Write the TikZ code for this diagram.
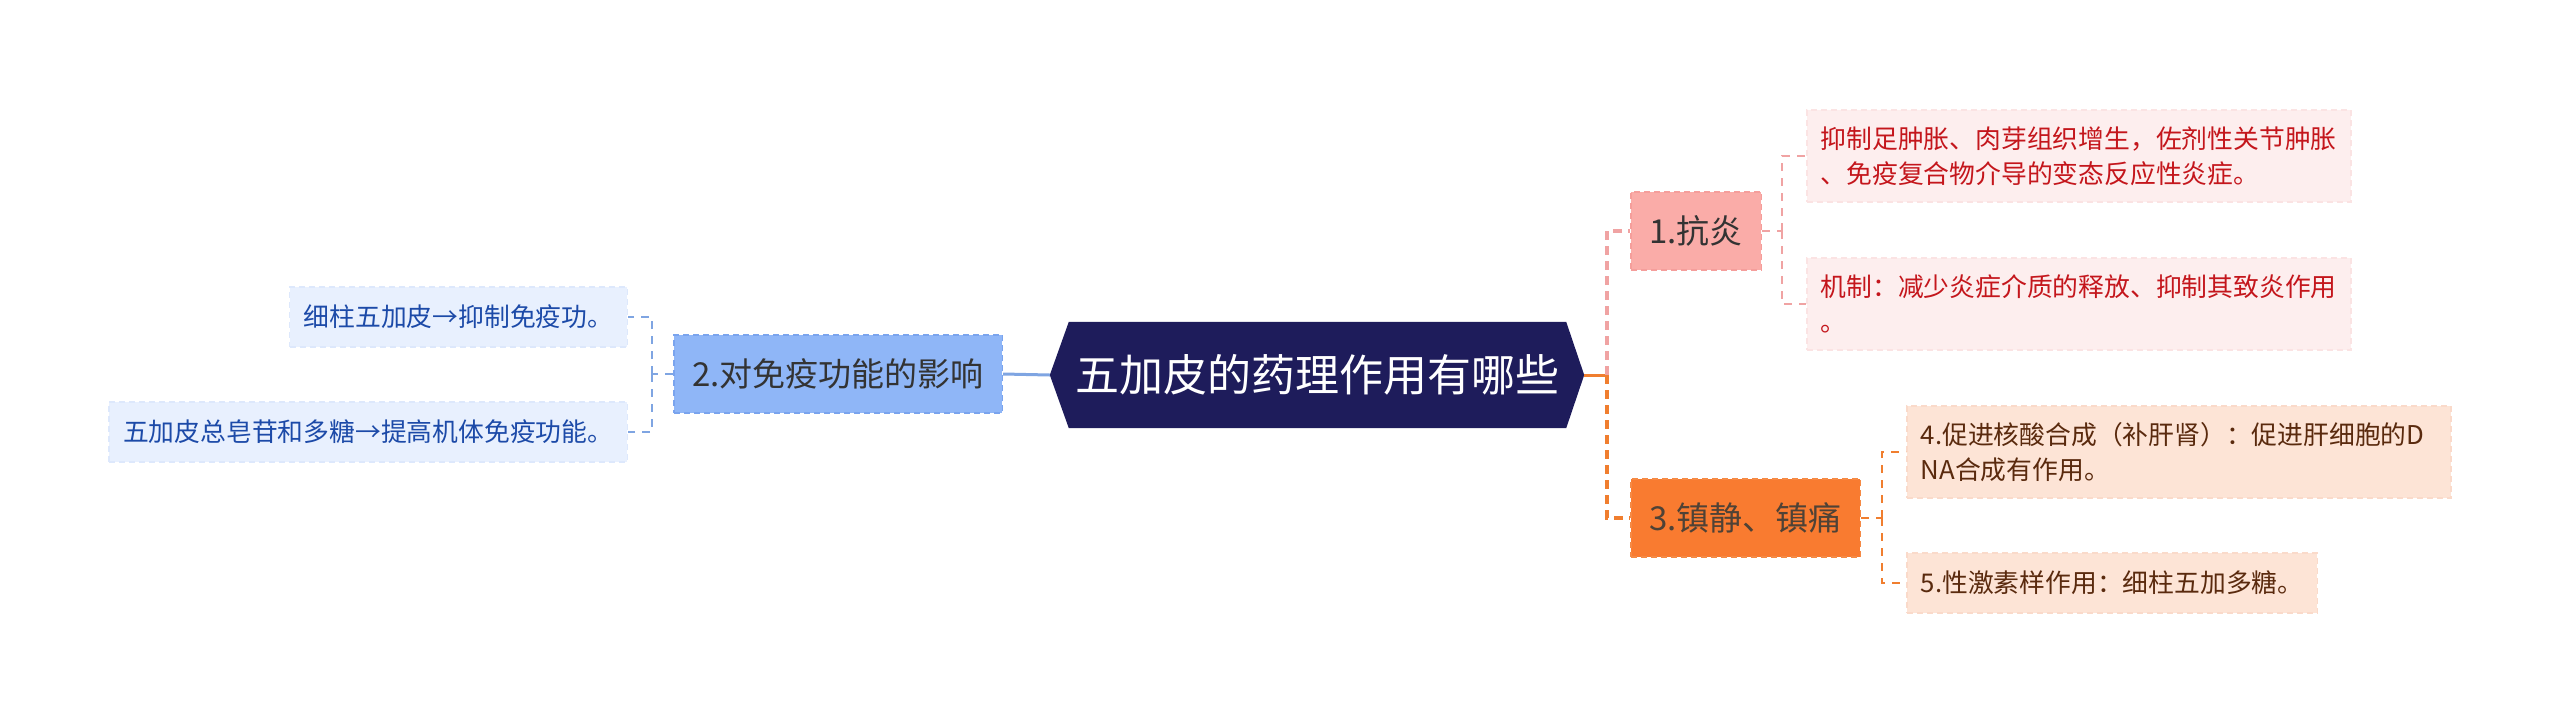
\documentclass[tikz,border=0pt]{standalone}
\usepackage{fontspec}
\newfontfamily\cjk{Noto Sans CJK SC}
\usetikzlibrary{backgrounds}
\definecolor{rootfill}{HTML}{1E1C5B}
\definecolor{bluemain}{HTML}{8FB6F7}
\definecolor{bluemainb}{HTML}{7AA4EE}
\definecolor{blueleaf}{HTML}{E8F0FE}
\definecolor{blueleafb}{HTML}{DDE8FC}
\definecolor{bluetext}{HTML}{1C4AA8}
\definecolor{blueline}{HTML}{7FA5E2}
\definecolor{pinkmain}{HTML}{FAACA8}
\definecolor{pinkmainb}{HTML}{F59E9B}
\definecolor{pinkleaf}{HTML}{FDEEEE}
\definecolor{pinkleafb}{HTML}{FBE3E3}
\definecolor{redtext}{HTML}{C4161C}
\definecolor{pinkline}{HTML}{F0A3A3}
\definecolor{orangemain}{HTML}{F97B30}
\definecolor{orangemainb}{HTML}{F58A45}
\definecolor{orangeleaf}{HTML}{FDE4D6}
\definecolor{orangeleafb}{HTML}{FADACA}
\definecolor{browntext}{HTML}{5A2A0E}
\definecolor{orangeline}{HTML}{F07E2F}
\definecolor{darktext}{HTML}{333333}
\begin{document}
\begin{tikzpicture}[x=1pt,y=-1pt,
  mainbox/.style={rectangle, inner ysep=0pt, inner xsep=18.5pt, minimum height=78pt,
    font=\cjk\fontsize{33}{40}\selectfont, line width=1.5pt, dash pattern=on 6pt off 4pt},
  leafbox/.style={rectangle, inner ysep=0pt, inner xsep=14pt, minimum height=60pt,
    font=\cjk\fontsize{25.8}{35}\selectfont, line width=1.5pt, dash pattern=on 6pt off 4pt},
  twoline/.style={minimum height=92pt, text width=516pt, align=left},
  trunk/.style={line width=3.5pt, dash pattern=on 9pt off 6pt},
  twig/.style={line width=2pt, dash pattern=on 8pt off 7pt}
]
\useasboundingbox (0,0) rectangle (2560,724);

% root
\node[rectangle, inner sep=0pt, minimum width=497pt, minimum height=106pt,
  font=\cjk\fontsize{44}{50}\selectfont, text=white] (root) at (1317.5,375) {五加皮的药理作用有哪些};
\coordinate (rootL) at ([xshift=-19pt]root.west);
\coordinate (rootR) at ([xshift=18pt]root.east);
\begin{scope}[on background layer]
\fill[rootfill] (root.north west) -- (root.north east) -- (rootR) -- (root.south east)
  -- (root.south west) -- (rootL) -- cycle;
\end{scope}

% left branch
\node[mainbox, fill=bluemain, draw=bluemainb, text=darktext, anchor=east] (n2) at (1003,374) {2.对免疫功能的影响};
\node[leafbox, fill=blueleaf, draw=blueleafb, text=bluetext, anchor=east] (l1) at (628,317) {细柱五加皮→抑制免疫功。};
\node[leafbox, fill=blueleaf, draw=blueleafb, text=bluetext, anchor=east] (l2) at (628,432) {五加皮总皂苷和多糖→提高机体免疫功能。};
\coordinate (jL) at (652,374);

% right branch
\node[mainbox, fill=pinkmain, draw=pinkmainb, text=darktext, anchor=west] (n1) at (1630,231) {1.抗炎};
\node[mainbox, fill=orangemain, draw=orangemainb, text=darktext!80!brown, anchor=west] (n3) at (1630,518) {3.镇静、镇痛};
\node[leafbox, twoline, fill=pinkleaf, draw=pinkleafb, text=redtext, anchor=west] (a) at (1806,156) {抑制足肿胀、肉芽组织增生，佐剂性关节肿胀\\、免疫复合物介导的变态反应性炎症。};
\node[leafbox, twoline, fill=pinkleaf, draw=pinkleafb, text=redtext, anchor=west] (b) at (1806,304) {机制：减少炎症介质的释放、抑制其致炎作用\\。};
\node[leafbox, twoline, fill=orangeleaf, draw=orangeleafb, text=browntext, anchor=west] (c) at (1906,452) {4.促进核酸合成（补肝肾）：促进肝细胞的D\\NA合成有作用。};
\node[leafbox, fill=orangeleaf, draw=orangeleafb, text=browntext, anchor=west] (d) at (1906,583) {5.性激素样作用：细柱五加多糖。};
\coordinate (jR) at (1607,375);
\coordinate (j1) at (1782,231);
\coordinate (j3) at (1882,518);

% connectors
\draw[blueline, line width=3pt] (n2.east) -- (rootL);
\draw[blueline, twig] (n2.west) -- (jL);
\draw[blueline, twig] (jL) |- (l1.east);
\draw[blueline, twig] (jL) |- (l2.east);

\draw[orangeline, line width=3pt] (rootR) -- (jR);
\draw[pinkline, trunk] (jR) |- (n1.west);
\draw[orangeline, trunk] (jR) |- (n3.west);

\draw[pinkline, twig] (n1.east) -- (j1);
\draw[pinkline, twig] (j1) |- (a.west);
\draw[pinkline, twig] (j1) |- (b.west);

\draw[orangeline, twig] (n3.east) -- (j3);
\draw[orangeline, twig] (j3) |- (c.west);
\draw[orangeline, twig] (j3) |- (d.west);
\end{tikzpicture}
\end{document}
